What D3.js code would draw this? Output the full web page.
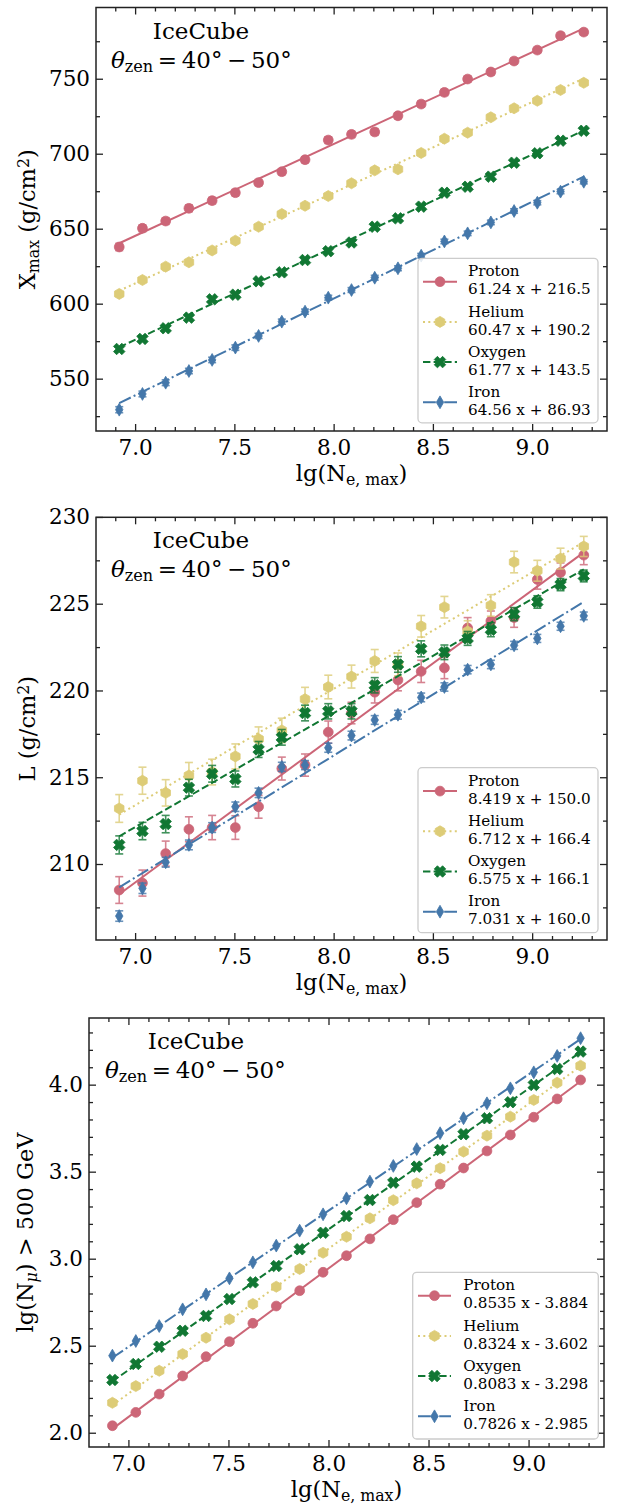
<!DOCTYPE html>
<html><head><meta charset="utf-8">
<script src="https://cdn.jsdelivr.net/npm/d3@7"></script>
<style>
body{margin:0;background:#fff}
svg{display:block}
text{font-family:"DejaVu Serif",serif;fill:#000}
</style>
</head><body>
<script>
// ---------------- DATA ----------------
const species = ["Proton", "Helium", "Oxygen", "Iron"];
const lgNe = [6.920, 7.037, 7.154, 7.271, 7.388, 7.505, 7.622, 7.739, 7.856, 7.973, 8.090,
              8.207, 8.324, 8.441, 8.558, 8.675, 8.792, 8.909, 9.026, 9.143, 9.260];

const xTicks = [7.0, 7.5, 8.0, 8.5, 9.0];
const xTickLabels = ["7.0", "7.5", "8.0", "8.5", "9.0"];

// Panel 1: Xmax
const xmaxProton = [637.8, 650.3, 655.1, 663.6, 668.7, 674.0, 680.7, 688.0, 696.0, 709.1, 712.9,
                    714.5, 725.3, 733.1, 740.9, 749.8, 754.5, 761.8, 769.1, 778.7, 781.1];
const xmaxHelium = [606.5, 615.8, 624.7, 627.6, 635.5, 642.0, 651.3, 659.8, 665.3, 671.8, 680.3,
                    688.9, 689.6, 700.5, 710.0, 714.0, 724.3, 730.3, 735.3, 742.5, 747.3];
const xmaxOxygen = [569.8, 576.5, 583.6, 590.7, 602.9, 606.0, 614.9, 620.9, 629.1, 635.0, 640.8,
                    651.3, 656.9, 664.7, 674.0, 678.0, 684.7, 694.0, 700.3, 708.7, 715.3];
const xmaxIron   = [529.3, 539.8, 547.3, 555.1, 562.5, 570.7, 578.5, 588.0, 594.7, 604.0, 609.1,
                    617.3, 623.6, 632.0, 641.5, 646.9, 654.2, 661.8, 667.3, 674.7, 681.3];
const xmaxErrProton = [2.4, 2.3, 2.2, 2.3, 2.2, 2.1, 2.1, 2.0, 2.0, 2.2, 2.1, 2.2, 2.0, 2.0, 2.1, 2.0, 2.0, 1.9, 1.9, 2.0, 1.9];
const xmaxErrHelium = [1.3, 1.3, 1.2, 1.2, 1.2, 1.2, 1.2, 1.1, 1.1, 1.1, 1.1, 1.1, 1.1, 1.1, 1.1, 1.0, 1.0, 1.0, 1.0, 1.0, 1.0];
const xmaxErrOxygen = [1.3, 1.3, 1.3, 1.2, 1.2, 1.2, 1.2, 1.1, 1.1, 1.1, 1.1, 1.1, 1.1, 1.0, 1.0, 1.0, 1.0, 1.0, 1.0, 1.0, 1.0];
const xmaxErrIron   = [2.0, 1.9, 1.9, 1.8, 1.8, 1.8, 1.7, 1.7, 1.7, 1.6, 1.6, 1.6, 1.6, 1.5, 1.5, 1.5, 1.5, 1.5, 1.4, 1.4, 1.4];
const xmaxSlope = [61.24, 60.47, 61.77, 64.56];
const xmaxIntercept = [216.5, 190.2, 143.5, 86.93];
const xmaxLegend = ["61.24 x + 216.5", "60.47 x + 190.2", "61.77 x + 143.5", "64.56 x + 86.93"];
const xmaxTicks = [550, 600, 650, 700, 750];
const xmaxTickLabels = ["550", "600", "650", "700", "750"];
const xmaxMinor = [525, 575, 625, 675, 725, 775];

// Panel 2: L
const lProton = [208.5, 208.9, 210.6, 212.0, 212.1, 212.1, 213.3, 215.5, 215.7, 217.6, 218.7,
                 219.9, 220.6, 221.1, 221.3, 223.6, 224.0, 224.2, 226.4, 226.8, 227.8];
const lHelium = [213.2, 214.8, 214.1, 215.1, 215.3, 216.2, 217.2, 217.7, 219.5, 220.2, 220.8,
                 221.7, 221.5, 223.7, 224.8, 223.4, 224.9, 227.4, 226.9, 227.6, 228.3];
const lOxygen = [211.1, 211.9, 212.3, 214.4, 215.2, 214.9, 216.6, 217.3, 218.7, 218.8, 218.8,
                 220.3, 221.5, 222.4, 222.2, 223.0, 223.5, 224.4, 225.1, 226.1, 226.6];
const lIron   = [207.0, 208.6, 210.1, 211.1, 212.1, 213.3, 214.1, 215.6, 215.7, 216.7, 217.4,
                 218.3, 218.6, 219.6, 220.2, 221.2, 221.5, 222.6, 223.0, 223.7, 224.3];
const lErrProton = [0.77, 0.75, 0.72, 0.72, 0.70, 0.68, 0.66, 0.66, 0.64, 0.64, 0.62, 0.62, 0.62, 0.64, 0.62, 0.60, 0.58, 0.56, 0.56, 0.55, 0.55];
const lErrHelium = [0.80, 0.78, 0.76, 0.75, 0.74, 0.72, 0.70, 0.70, 0.68, 0.68, 0.66, 0.66, 0.66, 0.62, 0.62, 0.62, 0.62, 0.62, 0.60, 0.60, 0.58];
const lErrOxygen = [0.52, 0.50, 0.50, 0.48, 0.48, 0.46, 0.46, 0.45, 0.45, 0.44, 0.44, 0.44, 0.45, 0.46, 0.42, 0.40, 0.40, 0.38, 0.36, 0.35, 0.34];
const lErrIron   = [0.30, 0.30, 0.28, 0.28, 0.28, 0.27, 0.27, 0.26, 0.26, 0.26, 0.25, 0.25, 0.25, 0.25, 0.24, 0.24, 0.24, 0.23, 0.23, 0.23, 0.22];
const lSlope = [8.419, 6.712, 6.575, 7.031];
const lIntercept = [150.0, 166.4, 166.1, 160.0];
const lLegend = ["8.419 x + 150.0", "6.712 x + 166.4", "6.575 x + 166.1", "7.031 x + 160.0"];
const lTicks = [210, 215, 220, 225, 230];
const lTickLabels = ["210", "215", "220", "225", "230"];
const lMinor = [207.5, 212.5, 217.5, 222.5, 227.5];

// Panel 3: lg(N_mu)
const nmuProton = [2.040, 2.117, 2.222, 2.326, 2.437, 2.523, 2.629, 2.728, 2.816, 2.922, 3.017,
                   3.114, 3.224, 3.322, 3.428, 3.521, 3.619, 3.711, 3.813, 3.918, 4.027];
const nmuHelium = [2.172, 2.268, 2.356, 2.452, 2.546, 2.652, 2.740, 2.839, 2.941, 3.034, 3.126,
                   3.232, 3.336, 3.433, 3.520, 3.615, 3.707, 3.816, 3.912, 4.011, 4.109];
const nmuOxygen = [2.303, 2.395, 2.494, 2.586, 2.671, 2.768, 2.864, 2.958, 3.054, 3.149, 3.245,
                   3.337, 3.437, 3.529, 3.625, 3.715, 3.807, 3.899, 3.998, 4.090, 4.190];
const nmuIron   = [2.443, 2.527, 2.613, 2.709, 2.795, 2.887, 2.979, 3.075, 3.161, 3.255, 3.347,
                   3.443, 3.533, 3.630, 3.721, 3.807, 3.893, 3.979, 4.071, 4.165, 4.267];
const nmuSlope = [0.8535, 0.8324, 0.8083, 0.7826];
const nmuIntercept = [-3.884, -3.602, -3.298, -2.985];
const nmuLegend = ["0.8535 x - 3.884", "0.8324 x - 3.602", "0.8083 x - 3.298", "0.7826 x - 2.985"];
const nmuTicks = [2.0, 2.5, 3.0, 3.5, 4.0];
const nmuTickLabels = ["2.0", "2.5", "3.0", "3.5", "4.0"];

// ---------------- STYLE ----------------
const colors = ["#CC6677", "#DDCC77", "#117733", "#4477AA"];
const dashes = [null, "2,3.3", "7.4,3.2", "12.8,3.2,2,3.2"];

const symCircle = {draw(c, r){ c.moveTo(r, 0); c.arc(0, 0, r, 0, 2*Math.PI); c.closePath(); }};
const symHex = {draw(c, r){ for(let k=0;k<6;k++){ const a=(-90+60*k)*Math.PI/180; const px=r*Math.cos(a), py=r*Math.sin(a); if(k===0)c.moveTo(px,py); else c.lineTo(px,py);} c.closePath(); }};
const symX = {draw(c, s){
  const b=[[-1,-0.38],[-1,0.38],[-0.38,0.38],[-0.38,1],[0.38,1],[0.38,0.38],[1,0.38],[1,-0.38],[0.38,-0.38],[0.38,-1],[-0.38,-1],[-0.38,-0.38]];
  const ca=Math.cos(Math.PI/4), sa=Math.sin(Math.PI/4);
  b.forEach((p,k)=>{ const px=s*(p[0]*ca-p[1]*sa), py=s*(p[0]*sa+p[1]*ca); if(k===0)c.moveTo(px,py); else c.lineTo(px,py);});
  c.closePath(); }};
const symThinD = {draw(c, h){ c.moveTo(0,-h); c.lineTo(h*0.58,0); c.lineTo(0,h); c.lineTo(-h*0.58,0); c.closePath(); }};
const symbols = [[symCircle, 4.9], [symHex, 5.5], [symX, 5.9], [symThinD, 6.4]];

const svg = d3.select("body").append("svg").attr("width", 618).attr("height", 1508);

function addMath(textSel, parts){
  parts.forEach(([t, mode]) => {
    const ts = textSel.append("tspan").text(t);
    if (mode === "sub") ts.attr("font-size", "70%").attr("baseline-shift", "-22%");
    if (mode === "sup") ts.attr("font-size", "70%").attr("baseline-shift", "40%");
    if (mode === "it") ts.attr("font-style", "italic");
    if (mode === "subit") ts.attr("font-size", "70%").attr("baseline-shift", "-22%").attr("font-style","italic");
  });
}

function drawPanel(cfg){
  const g = svg.append("g");
  const x = d3.scaleLinear().domain([6.803, 9.377]).range([cfg.left, cfg.right]);
  const y = d3.scaleLinear().domain(cfg.yDomain).range([cfg.bottom, cfg.top]);
  const clipId = "clip" + cfg.id;
  g.append("clipPath").attr("id", clipId).append("rect")
    .attr("x", cfg.left).attr("y", cfg.top).attr("width", cfg.right-cfg.left).attr("height", cfg.bottom-cfg.top);
  const plot = g.append("g").attr("clip-path", `url(#${clipId})`);

  cfg.series.forEach((vals, s) => {
    const col = colors[s];
    const sg = plot.append("g");
    const x0 = lgNe[0], x1 = lgNe[lgNe.length-1];
    const fitPts = [x0, x1].map(v => [v, cfg.slope[s]*v + cfg.intercept[s]]);
    sg.append("path").attr("d", d3.line().x(d=>x(d[0])).y(d=>y(d[1]))(fitPts))
      .attr("fill","none").attr("stroke", col).attr("stroke-width", 2)
      .attr("stroke-dasharray", dashes[s]);
    if (cfg.errors) {
      const errs = cfg.errors[s];
      const eb = sg.append("g").attr("stroke", col).attr("stroke-width", 1.6).attr("opacity", 0.8);
      vals.forEach((v, i) => {
        const cx = x(lgNe[i]), ylo = y(v-errs[i]), yhi = y(v+errs[i]);
        eb.append("line").attr("x1",cx).attr("x2",cx).attr("y1",ylo).attr("y2",yhi);
        eb.append("line").attr("x1",cx-4).attr("x2",cx+4).attr("y1",ylo).attr("y2",ylo);
        eb.append("line").attr("x1",cx-4).attr("x2",cx+4).attr("y1",yhi).attr("y2",yhi);
      });
    }
    const sym = d3.symbol().type(symbols[s][0]).size(symbols[s][1]);
    sg.selectAll("path.m").data(vals).join("path").attr("class","m")
      .attr("transform", (v,i) => `translate(${x(lgNe[i])},${y(v)})`)
      .attr("d", sym).attr("fill", col).attr("stroke", col).attr("stroke-width", 0.8);
  });

  const fs = 21.5;
  const styleAxis = (ax) => { ax.select(".domain").remove(); ax.selectAll("line").attr("stroke","#222").attr("stroke-width",1.3); };
  const xMinorVals = d3.range(6.9, 9.35, 0.1).filter(v => !xTicks.some(t => Math.abs(t-v)<1e-6));
  const bx = g.append("g").attr("transform",`translate(0,${cfg.bottom})`)
    .call(d3.axisBottom(x).tickValues(xTicks).tickFormat((d,i)=>xTickLabels[i]).tickSizeInner(-7).tickSizeOuter(0).tickPadding(8.7));
  bx.selectAll("text").attr("font-size", fs).attr("font-family","DejaVu Serif");
  styleAxis(bx);
  const bxm = g.append("g").attr("transform",`translate(0,${cfg.bottom})`)
    .call(d3.axisBottom(x).tickValues(xMinorVals).tickFormat("").tickSizeInner(-4).tickSizeOuter(0));
  styleAxis(bxm);
  const tx = g.append("g").attr("transform",`translate(0,${cfg.top})`)
    .call(d3.axisTop(x).tickValues(xTicks).tickFormat("").tickSizeInner(-7).tickSizeOuter(0));
  styleAxis(tx);
  const txm = g.append("g").attr("transform",`translate(0,${cfg.top})`)
    .call(d3.axisTop(x).tickValues(xMinorVals).tickFormat("").tickSizeInner(-4).tickSizeOuter(0));
  styleAxis(txm);
  const ly = g.append("g").attr("transform",`translate(${cfg.left},0)`)
    .call(d3.axisLeft(y).tickValues(cfg.yTicks).tickFormat((d,i)=>cfg.yTickLabels[i]).tickSizeInner(-7).tickSizeOuter(0).tickPadding(6));
  ly.selectAll("text").attr("font-size", fs).attr("font-family","DejaVu Serif");
  styleAxis(ly);
  const lym = g.append("g").attr("transform",`translate(${cfg.left},0)`)
    .call(d3.axisLeft(y).tickValues(cfg.yMinor).tickFormat("").tickSizeInner(-4).tickSizeOuter(0));
  styleAxis(lym);
  const ry = g.append("g").attr("transform",`translate(${cfg.right},0)`)
    .call(d3.axisRight(y).tickValues(cfg.yTicks).tickFormat("").tickSizeInner(-7).tickSizeOuter(0));
  styleAxis(ry);
  const rym = g.append("g").attr("transform",`translate(${cfg.right},0)`)
    .call(d3.axisRight(y).tickValues(cfg.yMinor).tickFormat("").tickSizeInner(-4).tickSizeOuter(0));
  styleAxis(rym);

  g.append("rect").attr("x", cfg.left).attr("y", cfg.top).attr("width", cfg.right-cfg.left)
    .attr("height", cfg.bottom-cfg.top).attr("fill","none").attr("stroke","#222").attr("stroke-width",1.5);

  const xt = g.append("text").attr("x", (cfg.left+cfg.right)/2).attr("y", cfg.bottom+50)
    .attr("text-anchor","middle").attr("font-size", 22.5);
  addMath(xt, [["lg(N","n"],["e, max","sub"],[")","n"]]);
  const yt = g.append("text").attr("transform", `translate(${cfg.yTitleX},${(cfg.top+cfg.bottom)/2}) rotate(-90)`)
    .attr("text-anchor","middle").attr("font-size", 22.5);
  addMath(yt, cfg.yTitle);

  g.append("text").attr("x", cfg.titleX).attr("y", cfg.titleY).attr("text-anchor","middle")
    .attr("font-size", 23).text("IceCube");
  const th = g.append("text").attr("x", cfg.thetaX).attr("y", cfg.titleY+29).attr("font-size", 23);
  addMath(th, [["θ","it"],["zen","sub"],["\u2009=\u200940°\u2009\u2212\u200950°","n"]]);

  const L = cfg.legend;
  const lg = g.append("g");
  lg.append("rect").attr("x", L.x).attr("y", L.y).attr("width", L.w).attr("height", L.h)
    .attr("rx", 4).attr("fill","#fff").attr("fill-opacity",0.85).attr("stroke","#cccccc").attr("stroke-width",1.3);
  species.forEach((name, s) => {
    const top = L.y + s*40.2;
    const hy = top + 23.4;
    lg.append("line").attr("x1", L.h0).attr("x2", L.h1).attr("y1", hy).attr("y2", hy)
      .attr("stroke", colors[s]).attr("stroke-width", 2).attr("stroke-dasharray", dashes[s]);
    lg.append("path").attr("transform", `translate(${(L.h0+L.h1)/2},${hy})`)
      .attr("d", d3.symbol().type(symbols[s][0]).size(symbols[s][1])).attr("fill", colors[s]).attr("stroke", colors[s]).attr("stroke-width",0.8);
    lg.append("text").attr("x", L.tx).attr("y", top + 18).attr("font-size", 15.2).text(name);
    lg.append("text").attr("x", L.tx).attr("y", top + 36).attr("font-size", 15.2).text(cfg.legendText[s]);
  });
}

drawPanel({
  id: 1, left: 96, right: 607, top: 7.5, bottom: 431, yDomain: [515.1, 797.5],
  series: [xmaxProton, xmaxHelium, xmaxOxygen, xmaxIron],
  errors: [xmaxErrProton, xmaxErrHelium, xmaxErrOxygen, xmaxErrIron],
  slope: xmaxSlope, intercept: xmaxIntercept, legendText: xmaxLegend,
  yTicks: xmaxTicks, yTickLabels: xmaxTickLabels, yMinor: xmaxMinor,
  yTitleX: 35, yTitle: [["X","n"],["max","sub"],[" (g/cm","n"],["2","sup"],[")","n"]],
  titleX: 201, titleY: 38.5, thetaX: 111,
  legend: {x: 418, y: 258.3, w: 180, h: 164.5, h0: 423, h1: 457, tx: 468}
});
drawPanel({
  id: 2, left: 96, right: 607, top: 517.3, bottom: 940, yDomain: [205.62, 229.98],
  series: [lProton, lHelium, lOxygen, lIron],
  errors: [lErrProton, lErrHelium, lErrOxygen, lErrIron],
  slope: lSlope, intercept: lIntercept, legendText: lLegend,
  yTicks: lTicks, yTickLabels: lTickLabels, yMinor: lMinor,
  yTitleX: 35, yTitle: [["L (g/cm","n"],["2","sup"],[")","n"]],
  titleX: 201, titleY: 547.7, thetaX: 111,
  legend: {x: 418, y: 767.7, w: 180, h: 165, h0: 423, h1: 457, tx: 468}
});
drawPanel({
  id: 3, left: 89, right: 604, top: 1018, bottom: 1447, yDomain: [1.918, 4.383],
  series: [nmuProton, nmuHelium, nmuOxygen, nmuIron],
  errors: null,
  slope: nmuSlope, intercept: nmuIntercept, legendText: nmuLegend,
  yTicks: nmuTicks, yTickLabels: nmuTickLabels,
  yMinor: d3.range(2.1, 4.35, 0.1).filter(v => !nmuTicks.some(t => Math.abs(t-v)<1e-6)),
  yTitleX: 33, yTitle: [["lg(N","n"],["μ","subit"],[") > 500 GeV","n"]],
  titleX: 196, titleY: 1049.3, thetaX: 105,
  legend: {x: 412.7, y: 1272.3, w: 185.6, h: 166.7, h0: 418, h1: 451, tx: 463.3}
});
</script>
</body></html>
